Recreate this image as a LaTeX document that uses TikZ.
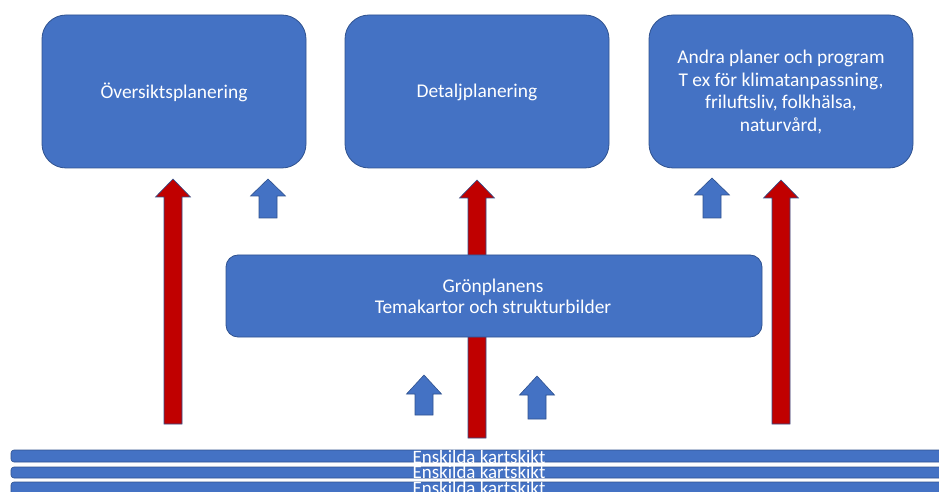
\documentclass[tikz,border=0pt]{standalone}
\usepackage{fontspec}
\setmainfont{Carlito}
\definecolor{boxfill}{HTML}{4472C4}
\definecolor{boxline}{HTML}{2F528F}
\definecolor{redfill}{HTML}{C00000}
\newcommand{\blockarrow}[5]{%
  \draw[#5] (#1-9,#4) -- (#1-9,#3) -- (#1-17.5,#3) -- (#1,#2) -- (#1+17.5,#3) -- (#1+9,#3) -- (#1+9,#4) -- cycle;}
\begin{document}
\begin{tikzpicture}[x=1bp,y=-1bp,
  bigbox/.style={draw=boxline, line width=0.8bp, fill=boxfill, rounded corners=24bp},
  midbox/.style={draw=boxline, line width=0.8bp, fill=boxfill, rounded corners=12bp},
  boxtext/.style={text=white, font=\fontsize{19.5}{23}\selectfont, align=center},
  layer/.style={draw=boxline, line width=0.6bp, fill=boxfill, rounded corners=3bp},
  layertext/.style={text=white, font=\fontsize{19}{19}\selectfont, inner sep=0pt, anchor=base},
  redarrow/.style={draw=boxline, line width=0.6bp, fill=redfill},
  bluearrow/.style={draw=boxline, line width=0.6bp, fill=boxfill}]
\useasboundingbox (0,0) rectangle (939,492);
% top boxes
\draw[bigbox] (42,15) rectangle (306,168);
\node[boxtext] (osp) at (174,92) {Översiktsplanering};
\draw[bigbox] (345,15) rectangle (609,168);
\node[boxtext] (dp) at (477,92) {Detaljplanering};
\draw[bigbox] (649,15) rectangle (913,168);
\node[boxtext] (ap) at (781,92)
  {Andra planer och program\\T ex för klimatanpassning,\\friluftsliv, folkhälsa,\\naturvård,};
% red arrow behind middle box
\blockarrow{477}{180}{198}{438}{redarrow}
% middle box
\draw[midbox] (226,255) rectangle (762,337);
\node[boxtext, font=\fontsize{19.5}{21}\selectfont] (gp) at (493,296)
  {Grönplanens\\Temakartor och strukturbilder};
% arrows
\blockarrow{173}{179}{197}{424}{redarrow}
\blockarrow{781}{180}{198}{424}{redarrow}
\blockarrow{268}{179}{196}{218}{bluearrow}
\blockarrow{712}{178}{195}{218}{bluearrow}
\blockarrow{424}{375}{394}{415}{bluearrow}
\blockarrow{537}{376}{395}{419}{bluearrow}
% layers
\draw[layer] (11,450) rectangle (950,462);
\draw[layer] (11,467) rectangle (950,478);
\draw[layer] (11,482) rectangle (950,500);
\node[layertext] (l1) at (479,463) {Enskilda kartskikt};
\node[layertext] (l2) at (479,478.5) {Enskilda kartskikt};
\node[layertext] (l3) at (479,494) {Enskilda kartskikt};
\end{tikzpicture}
\end{document}
